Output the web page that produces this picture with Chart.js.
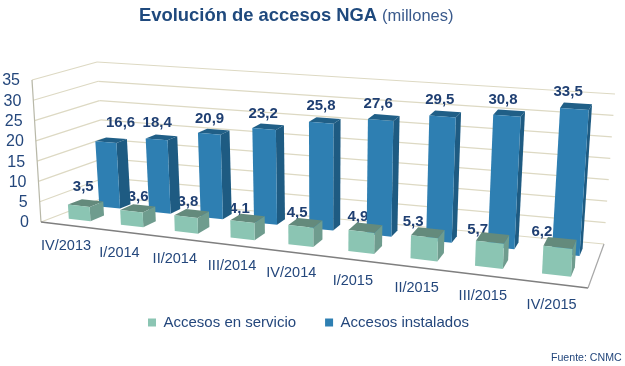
<!DOCTYPE html>
<html>
<head>
<meta charset="utf-8">
<script src="https://cdn.jsdelivr.net/npm/chart.js@4"></script>
<style>
  html, body { margin: 0; padding: 0; background: #fff; }
  canvas { display: block; }
</style>
</head>
<body>
<canvas id="chartNGA" width="625" height="366"></canvas>
<script>
const CATEGORIAS = ['IV/2013','I/2014','II/2014','III/2014','IV/2014','I/2015','II/2015','III/2015','IV/2015'];
const EN_SERVICIO = [3.5,3.6,3.8,4.1,4.5,4.9,5.3,5.7,6.2];
const INSTALADOS = [16.6,18.4,20.9,23.2,25.8,27.6,29.5,30.8,33.5];
const TICK_MAX = 35;
const TICK_STEP = 5;

const TEXT = '#24477C';
const FONT = '"Liberation Sans", Arial, sans-serif';

// esquinas de la caja 3D: delante-izq, delante-der, fondo-der, fondo-izq
const SUELO = [[41,222],[588,288],[604,244],[106,197]];
const TECHO = [[32,80],[597,128],[615,94],[97,62]];
const PERSP = 0.85;

function mix(a,b,t){ return [a[0]+(b[0]-a[0])*t, a[1]+(b[1]-a[1])*t]; }
function plano(q,u,v){ return mix(mix(q[0],q[1],u), mix(q[3],q[2],u), v); }
function proj(t,v,w){
  const u = t*PERSP/(1+t*(PERSP-1));   // lo cercano (derecha) sale mas ancho
  return mix(plano(SUELO,u,v), plano(TECHO,u,v), w);
}

function poly(ctx, pts, fill){
  ctx.beginPath();
  pts.forEach((p,i)=> i ? ctx.lineTo(p[0],p[1]) : ctx.moveTo(p[0],p[1]));
  ctx.closePath();
  ctx.fillStyle = fill;
  ctx.fill();
}
function line(ctx, a, b, color, width){
  ctx.beginPath();
  ctx.moveTo(a[0],a[1]);
  ctx.lineTo(b[0],b[1]);
  ctx.strokeStyle = color;
  ctx.lineWidth = width;
  ctx.stroke();
}

// caras de la serie: profundidad, colores y ajuste de cada etiqueta (colocadas a mano en el original)
const SERIES_3D = [
  { v0: 0.20, v1: 0.42, front: '#8BC5B3', side: '#6F9C8E', top: '#648A7C',
    nudgeX: [-3,2,0,-2,0,3,-2,0,-1], nudgeY: [-4,1,1,3,2,1,1,4,1] },
  { v0: 0.68, v1: 0.85, front: '#2E7FB2', side: '#1E5B82', top: '#205F87',
    nudgeX: [1,-11,-9,-8,-5,-5,-3,-2,-2], nudgeY: [-4,-1,0,0,-1,0,-1,0,-1] }
];

function drawBars(chart, idx){
  const ctx = chart.ctx, area = chart.chartArea, s = SERIES_3D[idx];
  chart.getDatasetMeta(idx).data.forEach(el => {
    const u0 = (el.x-el.width/2-area.left)/area.width;
    const u1 = (el.x+el.width/2-area.left)/area.width;
    const w = (area.bottom-el.y)/area.height;
    poly(ctx,[proj(u0,s.v1,w),proj(u1,s.v1,w),proj(u1,s.v0,w),proj(u0,s.v0,w)],s.top);
    poly(ctx,[proj(u1,s.v0,0),proj(u1,s.v1,0),proj(u1,s.v1,w),proj(u1,s.v0,w)],s.side);
    poly(ctx,[proj(u0,s.v0,0),proj(u1,s.v0,0),proj(u1,s.v0,w),proj(u0,s.v0,w)],s.front);
  });
}

function drawValues(chart, idx, dx0, dx1, dy){
  const ctx = chart.ctx, area = chart.chartArea, s = SERIES_3D[idx];
  ctx.font = 'bold 15px '+FONT;
  ctx.fillStyle = '#1F3F72';
  ctx.textAlign = 'center';
  ctx.textBaseline = 'middle';
  const values = chart.data.datasets[idx].data;
  chart.getDatasetMeta(idx).data.forEach((el,i) => {
    const u = (el.x-area.left)/area.width;
    const w = (area.bottom-el.y)/area.height;
    const p = proj(u,(s.v0+0.18/2),w);
    ctx.fillText(String(values[i]).replace('.',','), p[0]+dx0+(dx1-dx0)*u+s.nudgeX[i], p[1]+dy+s.nudgeY[i]);
  });
}

const box3d = {
  id: 'box3d',
  beforeDatasetsDraw(chart){
    const ctx = chart.ctx, area = chart.chartArea, y = chart.scales.y, x = chart.scales.x;
    ctx.save();
    // rejilla: pared izquierda y fondo
    y.ticks.forEach(t => {
      const w = (area.bottom-y.getPixelForValue(t.value))/area.height;
      line(ctx, proj(0,0,w), proj(0,1,w), '#DDD9C3', 1.2);
      line(ctx, proj(0,1,w), proj(1,1,w), '#DDD9C3', 1.2);
    });
    // bordes
    line(ctx, proj(0,0,0), proj(0,0,1), '#B8B8A8', 1.2);
    line(ctx, proj(0,0,0), proj(1,0,0), '#7F7F7F', 1.6);
    line(ctx, proj(1,0,0), proj(1,1,0), '#A6A6A6', 1.2);
    // eje de valores
    ctx.font = '16px '+FONT;
    ctx.fillStyle = TEXT;
    ctx.textAlign = 'right';
    ctx.textBaseline = 'middle';
    y.ticks.forEach(t => {
      const w = (area.bottom-y.getPixelForValue(t.value))/area.height;
      const p = proj(0,0,w);
      ctx.fillText(String(t.value), p[0]-12, p[1]+1);
    });
    // eje de categorias
    ctx.font = '14.5px '+FONT;
    ctx.textAlign = 'center';
    chart.data.labels.forEach((lab,i) => {
      const u = (x.getPixelForValue(i)-area.left)/area.width;
      const p = proj(u,0,0);
      ctx.fillText(lab, p[0]-1, p[1]+21);
    });
    // orden de pintado del original
    drawValues(chart, 0, 3, -18, -13);
    drawBars(chart, 1);
    drawBars(chart, 0);
    drawValues(chart, 1, 9, -7, -13);
    // titulo y fuente
    ctx.textBaseline = 'middle';
    ctx.textAlign = 'left';
    ctx.fillStyle = '#1F497D';
    ctx.font = 'bold 18.4px '+FONT;
    ctx.fillText('Evolución de accesos NGA', 139, 16);
    ctx.font = '16.5px '+FONT;
    ctx.fillStyle = '#3A5A8C';
    ctx.fillText('(millones)', 382, 16);
    ctx.font = '10.6px '+FONT;
    ctx.fillStyle = TEXT;
    ctx.fillText('Fuente: CNMC', 551, 358);
    ctx.restore();
  },
  // las barras planas no se pintan, solo las 3D
  beforeDatasetDraw(){ return false; }
};

new Chart(document.getElementById('chartNGA'), {
  type: 'bar',
  data: {
    labels: CATEGORIAS,
    datasets: [
      { label: 'Accesos en servicio', data: EN_SERVICIO, backgroundColor: '#8BC5B3', borderWidth: 0 },
      { label: 'Accesos instalados', data: INSTALADOS, backgroundColor: '#2E7FB2', borderWidth: 0 }
    ]
  },
  options: {
    responsive: false,
    animation: false,
    layout: { padding: { bottom: 26, right: 8 } },
    datasets: { bar: { grouped: false, categoryPercentage: 1, barPercentage: 0.42 } },
    plugins: {
      title: { display: false },
      tooltip: { enabled: false },
      legend: {
        position: 'bottom',
        labels: {
          boxWidth: 8, boxHeight: 8, padding: 29,
          color: TEXT,
          font: { family: FONT, size: 15 }
        }
      }
    },
    scales: {
      x: { display: false },
      y: { display: false, min: 0, max: TICK_MAX, ticks: { stepSize: TICK_STEP } }
    }
  },
  plugins: [box3d]
});
</script>
</body>
</html>
